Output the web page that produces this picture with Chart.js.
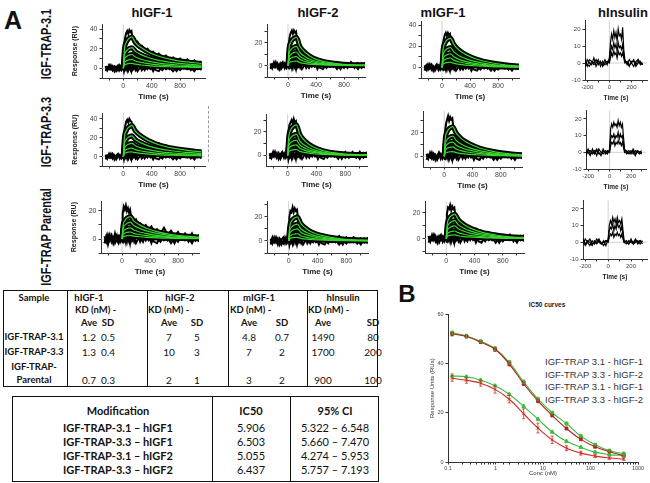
<!DOCTYPE html>
<html>
<head>
<meta charset="utf-8">
<script src="https://cdn.jsdelivr.net/npm/chart.js@4.4.1/dist/chart.umd.min.js"></script>
<style>
  body { margin: 0; width: 650px; height: 483px; position: relative; overflow: hidden; background: #fff;
         font-family: "Liberation Sans", Arial, sans-serif; }
  canvas { position: absolute; }
  .t { position: absolute; white-space: nowrap; line-height: 1; transform: translate(-50%, -50%); color: #111; }
  .l { position: absolute; white-space: nowrap; line-height: 1; transform: translate(0, -50%); color: #111; }
  .box { position: absolute; border: 1px solid #111; box-sizing: border-box; }
  .vl { position: absolute; width: 1px; background: #111; }
</style>
</head>
<body>
<script>
// ---------- sensorgram data (RU vs time, s) ----------
const TIME_FIT = [0, 15, 40, 70, 100, 120, 170, 250, 350, 500, 700, 900, 1100];
const TIME_RAW = [-250,-225,-200,-175,-150,-125,-100,-75,-50,-25,0,10,25,40,55,70,85,100,115,130,150,175,200,230,260,300,340,380,420,460,500,550,600,650,700,750,800,850,900,950,1000,1050,1100];
const NOISE_A = [2,-2,3,-1,2,-3,1,3,-2,2,0,3,-1,2,-2,3,0,-2,2,-1,3,-2,1,3,-2,2,-1,3,-3,2,1,-2,3,-1,2,-3,2,0,3,-2,2,-1,3];
const NOISE_B = [-3,1,-1,3,-2,1,-3,0,2,-2,1,-3,2,-1,1,-2,2,1,-3,2,-1,1,-3,0,2,-2,3,-1,1,-2,-3,2,-1,1,-3,1,-2,2,-1,1,-3,2,-2];
const TICKS_TIME = [-200, 0, 200, 400, 600, 800, 1000];
const LABELS_TIME = [0, 400, 800];
const TICKS_INS = [-200, -100, 0, 100, 200, 300];
const LABELS_INS = [-200, 0, 200];
const TICKS_RU = [-10, 0, 10, 20, 30, 40];

const FIT_T31_HIGF1 = [
  [0, 19.2, 26.2, 29.8, 31.4, 32, 26.2, 21.1, 16.6, 12.2, 8.6, 6.4, 4.8],
  [0, 12.6, 17.2, 19.5, 20.6, 21, 17.2, 13.9, 10.9, 8, 5.7, 4.2, 3.2],
  [0, 8.4, 11.5, 13, 13.7, 14, 11.5, 9.2, 7.3, 5.3, 3.8, 2.8, 2.1],
  [0, 5.4, 7.4, 8.4, 8.8, 9, 7.4, 5.9, 4.7, 3.4, 2.4, 1.8, 1.4],
  [0, 3, 4.1, 4.7, 4.9, 5, 4.1, 3.3, 2.6, 1.9, 1.4, 1, 0.8]
];
const FIT_T31_HIGF2 = [
  [0, 15, 20.5, 23.3, 24.5, 25, 17, 11.3, 7, 3.8, 1.8, 0.8, 0.5],
  [0, 10.2, 13.9, 15.8, 16.7, 17, 11.6, 7.7, 4.8, 2.6, 1.2, 0.5, 0.3],
  [0, 7.2, 9.8, 11.2, 11.8, 12, 8.2, 5.4, 3.4, 1.8, 0.8, 0.4, 0.2],
  [0, 4.8, 6.6, 7.4, 7.8, 8, 5.4, 3.6, 2.2, 1.2, 0.6, 0.2, 0.2],
  [0, 2.4, 3.3, 3.7, 3.9, 4, 2.7, 1.8, 1.1, 0.6, 0.3, 0.1, 0.1]
];
const FIT_T31_MIGF1 = [
  [0, 16.8, 23, 26, 27.4, 28, 21.8, 16.2, 12, 7.8, 4.5, 2.5, 1.4],
  [0, 11.4, 15.6, 17.7, 18.6, 19, 14.8, 11, 8.2, 5.3, 3, 1.7, 1],
  [0, 7.8, 10.7, 12.1, 12.7, 13, 10.1, 7.5, 5.6, 3.6, 2.1, 1.2, 0.7],
  [0, 5.4, 7.4, 8.4, 8.8, 9, 7, 5.2, 3.9, 2.5, 1.4, 0.8, 0.5],
  [0, 3, 4.1, 4.7, 4.9, 5, 3.9, 2.9, 2.2, 1.4, 0.8, 0.5, 0.3]
];
const FIT_T33_HIGF1 = [
  [0, 19.8, 27.1, 30.7, 32.3, 33, 27.1, 21.8, 17.2, 12.5, 8.9, 6.6, 5],
  [0, 13.2, 18, 20.5, 21.6, 22, 18, 14.5, 11.4, 8.4, 5.9, 4.4, 3.3],
  [0, 8.4, 11.5, 13, 13.7, 14, 11.5, 9.2, 7.3, 5.3, 3.8, 2.8, 2.1],
  [0, 5.4, 7.4, 8.4, 8.8, 9, 7.4, 5.9, 4.7, 3.4, 2.4, 1.8, 1.4],
  [0, 3, 4.1, 4.7, 4.9, 5, 4.1, 3.3, 2.6, 1.9, 1.4, 1, 0.8]
];
const FIT_T33_HIGF2 = [
  [0, 15.6, 21.3, 24.2, 25.5, 26, 17.7, 11.7, 7.3, 3.9, 1.8, 0.8, 0.5],
  [0, 10.8, 14.8, 16.7, 17.6, 18, 12.2, 8.1, 5, 2.7, 1.3, 0.5, 0.4],
  [0, 7.8, 10.7, 12.1, 12.7, 13, 8.8, 5.9, 3.6, 2, 0.9, 0.4, 0.3],
  [0, 5.4, 7.4, 8.4, 8.8, 9, 6.1, 4.1, 2.5, 1.4, 0.6, 0.3, 0.2],
  [0, 3, 4.1, 4.7, 4.9, 5, 3.4, 2.3, 1.4, 0.8, 0.4, 0.2, 0.1]
];
const FIT_T33_MIGF1 = [
  [0, 15, 20.5, 23.3, 24.5, 25, 19.5, 14.5, 10.8, 7, 4, 2.3, 1.3],
  [0, 10.2, 13.9, 15.8, 16.7, 17, 13.3, 9.9, 7.3, 4.8, 2.7, 1.5, 0.9],
  [0, 7.2, 9.8, 11.2, 11.8, 12, 9.4, 7, 5.2, 3.4, 1.9, 1.1, 0.6],
  [0, 4.8, 6.6, 7.4, 7.8, 8, 6.2, 4.6, 3.4, 2.2, 1.3, 0.7, 0.4],
  [0, 2.4, 3.3, 3.7, 3.9, 4, 3.1, 2.3, 1.7, 1.1, 0.6, 0.4, 0.2]
];
const FIT_PAR_HIGF1 = [
  [0, 9.6, 13.1, 14.9, 15.7, 16, 12.8, 10.1, 7.7, 5.3, 3.2, 2.1, 1.3],
  [0, 7.2, 9.8, 11.2, 11.8, 12, 9.6, 7.6, 5.8, 4, 2.4, 1.6, 1],
  [0, 4.8, 6.6, 7.4, 7.8, 8, 6.4, 5, 3.8, 2.6, 1.6, 1, 0.6],
  [0, 3, 4.1, 4.7, 4.9, 5, 4, 3.2, 2.4, 1.7, 1, 0.7, 0.4],
  [0, 1.5, 2.1, 2.3, 2.5, 2.5, 2, 1.6, 1.2, 0.8, 0.5, 0.3, 0.2]
];
const FIT_PAR_HIGF2 = [
  [0, 12, 16.4, 18.6, 19.6, 20, 14.4, 10, 6.6, 4, 2, 1, 0.6],
  [0, 8.4, 11.5, 13, 13.7, 14, 10.1, 7, 4.6, 2.8, 1.4, 0.7, 0.4],
  [0, 6, 8.2, 9.3, 9.8, 10, 7.2, 5, 3.3, 2, 1, 0.5, 0.3],
  [0, 3.6, 4.9, 5.6, 5.9, 6, 4.3, 3, 2, 1.2, 0.6, 0.3, 0.2],
  [0, 1.8, 2.5, 2.8, 2.9, 3, 2.2, 1.5, 1, 0.6, 0.3, 0.2, 0.1]
];
const FIT_PAR_MIGF1 = [
  [0, 11.4, 15.6, 17.7, 18.6, 19, 14.8, 11, 8, 5.1, 2.9, 1.5, 1],
  [0, 8.4, 11.5, 13, 13.7, 14, 10.9, 8.1, 5.9, 3.8, 2.1, 1.1, 0.7],
  [0, 6, 8.2, 9.3, 9.8, 10, 7.8, 5.8, 4.2, 2.7, 1.5, 0.8, 0.5],
  [0, 3.6, 4.9, 5.6, 5.9, 6, 4.7, 3.5, 2.5, 1.6, 0.9, 0.5, 0.3],
  [0, 1.8, 2.5, 2.8, 2.9, 3, 2.3, 1.7, 1.3, 0.8, 0.5, 0.2, 0.2]
];

const RAW_T31_HIGF1 = [2,-1,3,0,-2,2,1,-2,3,0,4,24,31,36,38,35,39,37,38,31,29,25,27,22,23,19,20,16,17,13,15,11,13,9,11,8,10,6,9,5,8,4,7];
const RAW_T31_HIGF2 = [-2,1,-1,2,0,-3,2,-1,1,-2,2,19,26,29,31,28,31,29,30,23,20,15,14,10,9,6,7,3,5,2,4,0,3,-1,3,-1,2,-2,3,-1,2,-2,1];
const RAW_T31_MIGF1 = [-1,2,-2,1,3,-1,0,2,-2,1,2,21,27,31,33,30,33,31,32,25,23,20,19,15,15,12,12,9,10,7,8,5,6,3,5,2,4,1,3,0,3,-1,2];
const RAW_T33_HIGF1 = [1,-2,2,-1,3,0,-2,2,0,-1,3,25,32,37,39,36,40,38,37,32,30,26,27,23,22,20,19,17,16,14,14,12,12,10,10,8,9,7,8,6,7,5,6];
const RAW_T33_HIGF2 = [1,-2,2,0,-1,2,-2,1,-1,2,1,20,26,28,30,27,31,28,29,22,19,16,13,11,8,7,5,4,3,3,2,1,3,-1,2,0,3,-2,2,-1,3,-2,1];
const RAW_T33_MIGF1 = [2,-1,1,-2,2,0,-1,3,-1,0,2,20,27,31,34,30,33,31,32,24,22,18,17,13,13,10,10,7,8,5,6,3,5,2,4,1,3,0,3,-1,2,0,2];
const RAW_PAR_HIGF1 = [-3,2,-4,1,3,-2,4,-1,-3,2,1,18,23,21,24,20,22,19,21,16,15,13,14,10,11,8,10,7,9,5,7,4,8,3,6,2,5,1,4,0,4,-1,3];
const RAW_PAR_HIGF2 = [-2,3,-1,1,-3,2,0,-2,3,-1,1,20,25,24,28,24,27,25,26,19,17,14,13,10,10,7,8,5,6,3,5,2,4,1,4,0,3,-1,3,0,2,-1,2];
const RAW_PAR_MIGF1 = [2,-2,1,3,-1,-3,2,0,-2,1,2,19,24,23,26,22,25,23,24,18,17,14,14,11,11,9,9,7,8,5,6,4,5,2,4,1,3,0,3,-1,2,0,2];

// hInsulin (no fit)
const TIME_INS = [-240,-220,-200,-180,-160,-140,-120,-100,-80,-60,-40,-20,0,10,20,30,40,50,60,70,80,90,100,110,120,130,140,160,180,200,220,240,260,280,300];
const INS_T31 = [
  [1,-2,2,0,-1,3,-2,1,0,-1,2,-1,3,12,17,14,19,15,18,13,20,16,17,14,21,8,2,-1,2,0,-2,1,2,-1,0],
  [-1,1,-2,2,1,-1,0,2,-2,1,-1,0,1,7,10,8,12,9,11,7,12,9,10,8,11,5,1,0,-2,1,1,-1,2,0,-1],
  [0,2,-1,-2,1,0,2,-1,1,-2,0,1,0,3,6,4,7,5,6,3,7,5,6,4,6,3,0,1,-1,0,2,-2,0,1,-1]
];
const INS_T33 = [
  [-1,1,0,-2,2,-1,1,0,-2,1,0,-1,2,14,17,15,18,16,17,15,19,16,18,15,17,9,2,0,1,-1,2,-1,1,0,1],
  [1,-1,2,-1,0,1,-2,2,0,-1,1,0,1,8,10,9,11,8,10,9,12,8,11,9,10,5,1,-1,0,1,-1,1,0,-1,0],
  [0,-2,1,1,-1,0,2,-1,-1,2,-1,1,0,4,6,5,7,4,6,5,7,5,6,4,6,3,0,1,-1,0,1,-2,1,0,-1]
];
const INS_PAR = [
  [1,-1,2,0,-2,1,-1,2,0,-1,1,-2,2,10,13,11,15,12,14,11,15,12,13,11,14,7,1,0,-1,1,0,2,-1,1,0],
  [-1,2,-1,1,0,-2,1,0,2,-1,0,1,1,7,9,8,11,7,10,8,12,9,10,7,10,4,0,1,-1,2,-1,0,1,-1,1],
  [0,1,-2,0,2,-1,0,-1,1,0,-2,1,0,3,5,4,6,3,5,4,6,4,5,3,5,2,0,-1,1,0,-1,1,0,1,-1]
];

// ---------- panel B (IC50) ----------
const CONC = [0.122, 0.244, 0.488, 0.977, 1.95, 3.91, 7.81, 15.6, 31.25, 62.5, 125, 250, 500];
const B_TOP_RED   = [52, 51, 48.7, 45.8, 39.8, 31.8, 24.8, 18.9, 13.6, 9.2, 6.2, 4.2, 2.6];
const B_TOP_GREEN = [52.5, 51.2, 49, 46, 40.5, 32.6, 25.6, 20, 15.6, 10.5, 7, 4.6, 3.4];
const B_LOW_GREEN = [35, 34.6, 33.2, 31, 27.5, 22.6, 17.4, 12.2, 8.4, 6, 4, 3, 2.6];
const B_LOW_RED   = [34, 33.2, 32, 29.5, 25.5, 19.6, 13.8, 9, 5.6, 3.6, 2.4, 1.6, 1.2];
const E_TOP_RED   = [0.8, 0.6, 0.6, 0.9, 0.8, 0.7, 0.7, 0.5, 0.5, 0.4, 0.4, 0.3, 0.3];
const E_TOP_GREEN = [0.6, 0.5, 0.5, 0.8, 0.7, 0.6, 0.5, 0.5, 0.5, 0.4, 0.4, 0.3, 0.3];
const E_LOW_GREEN = [0.8, 0.5, 0.6, 0.5, 0.5, 0.6, 0.5, 0.5, 0.5, 0.4, 0.4, 0.3, 0.3];
const E_LOW_RED   = [1.2, 1.2, 1.2, 1.5, 1.5, 2, 2, 1.5, 1, 0.8, 0.6, 0.5, 0.5];
const LEGEND_B = ['IGF-TRAP 3.1 - hIGF-1', 'IGF-TRAP 3.3 - hIGF-2', 'IGF-TRAP 3.1 - hIGF-1', 'IGF-TRAP 3.3 - hIGF-2'];

// ---------- tables ----------
const KD_SAMPLES = ['IGF-TRAP-3.1', 'IGF-TRAP-3.3', 'Parental'];
const KD_LIGANDS = ['hIGF-1', 'hIGF-2', 'mIGF-1', 'hInsulin'];
const KD_AVE = [['1.2', '7', '4.8', '1490'], ['1.3', '10', '7', '1700'], ['0.7', '2', '3', '900']];
const KD_SD  = [['0.5', '5', '0.7', '80'], ['0.4', '3', '2', '200'], ['0.3', '1', '2', '100']];
const IC50_ROWS = ['IGF-TRAP-3.1 \u2013 hIGF1', 'IGF-TRAP-3.3 \u2013 hIGF1', 'IGF-TRAP-3.1 \u2013 hIGF2', 'IGF-TRAP-3.3 \u2013 hIGF2'];
const IC50_VAL = ['5.906', '6.503', '5.055', '6.437'];
const IC50_CI  = ['5.322 \u2013 6.548', '5.660 \u2013 7.470', '4.274 \u2013 5.953', '5.757 \u2013 7.193'];

// ---------- helpers ----------
function pts(xs, ys) { return ys.map((y, i) => ({x: xs[i], y: y})); }

function txt(s, x, y, css, cls) {
  const d = document.createElement('div');
  d.className = cls || 't';
  d.textContent = s;
  d.style.left = x + 'px'; d.style.top = y + 'px';
  if (css) d.style.cssText += css;
  document.body.appendChild(d);
  return d;
}

const zeroLines = {
  id: 'zeroLines',
  beforeDatasetsDraw(chart) {
    const {ctx, chartArea: a, scales: {x, y}} = chart;
    const y0 = y.getPixelForValue(0), x0 = x.getPixelForValue(0);
    ctx.save();
    ctx.strokeStyle = '#c4c4c4'; ctx.lineWidth = 0.8;
    ctx.beginPath();
    ctx.moveTo(a.left, y0); ctx.lineTo(a.right, y0);
    ctx.moveTo(x0, a.top); ctx.lineTo(x0, a.bottom);
    ctx.stroke();
    ctx.restore();
  }
};

function sensor(box, c) {
  const [L, T, R, B] = box;
  const yW = c.yTitle ? 31 : 20, xH = c.ins ? 22 : 24, pT = 5, pR = 3;
  const w = Math.round(R - L + yW + pR), h = Math.round(B - T + pT + xH);
  const cv = document.createElement('canvas');
  cv.width = w; cv.height = h;
  cv.style.left = (L - yW) + 'px'; cv.style.top = (T - pT) + 'px';
  cv.style.width = w + 'px'; cv.style.height = h + 'px';
  document.body.appendChild(cv);

  const ds = [];
  (c.fits || []).forEach(f => {
    ds.push({data: pts(TIME_FIT, f), borderColor: '#3ad630', borderWidth: 1.2, order: 0, cubicInterpolationMode: 'monotone'});
    ds.push({data: pts(TIME_FIT, f), borderColor: '#000', borderWidth: 5, order: 2, cubicInterpolationMode: 'monotone'});
  });
  c.raw.forEach(r => ds.push({data: pts(c.rawTime, r), borderColor: '#000', borderWidth: c.ins ? 1.2 : 2, order: 3}));

  const fs = c.ins ? 6 : 7;
  const xTicks = c.ins ? TICKS_INS : TICKS_TIME, xLabels = c.ins ? LABELS_INS : LABELS_TIME;
  const yLabel = v => c.ins ? true : v % 20 === 0;
  new Chart(cv, {
    type: 'line',
    data: {datasets: ds},
    options: {
      responsive: false, animation: false, devicePixelRatio: 1,
      layout: {padding: {top: pT, right: pR, left: 0, bottom: 0}},
      elements: {point: {radius: 0}},
      plugins: {legend: {display: false}, tooltip: {enabled: false}},
      scales: {
        x: {
          type: 'linear', min: c.xr[0], max: c.xr[1],
          afterBuildTicks: s => { s.ticks = xTicks.filter(v => v >= c.xr[0] && v <= c.xr[1]).map(v => ({value: v})); },
          afterFit: s => { s.height = xH; },
          ticks: {
            font: {size: fs}, color: '#444', padding: 1, maxRotation: 0, autoSkip: false,
            callback: v => xLabels.includes(v) ? v : ''
          },
          grid: {drawOnChartArea: false, tickLength: 2.5, color: '#333'},
          border: {color: '#333'},
          title: {display: true, text: 'Time (s)', font: {size: c.ins ? 6.5 : 8, weight: 'bold'}, color: '#222', padding: 0}
        },
        y: {
          min: c.yr[0], max: c.yr[1],
          afterBuildTicks: s => { s.ticks = TICKS_RU.filter(v => v >= c.yr[0] && v <= c.yr[1]).map(v => ({value: v})); },
          afterFit: s => { s.width = yW; },
          ticks: {
            font: {size: fs}, color: '#444', padding: 2, autoSkip: false,
            callback: v => yLabel(v) ? v : ''
          },
          grid: {drawOnChartArea: false, tickLength: 2.5, color: '#333'},
          border: {color: '#333'},
          title: {display: !!c.yTitle, text: 'Response (RU)', font: {size: 7, weight: 'bold'}, color: '#222', padding: 0}
        }
      }
    },
    plugins: [zeroLines]
  });
}

// ---------- static text ----------
txt('A', 13, 20, 'font-size:25px;font-weight:bold;');
txt('B', 407, 294, 'font-size:24px;font-weight:bold;');
txt('hIGF-1', 152, 12, 'font-size:13px;font-weight:bold;');
txt('hIGF-2', 318, 12, 'font-size:13px;font-weight:bold;');
txt('mIGF-1', 443, 12, 'font-size:13px;font-weight:bold;');
txt('hInsulin', 623, 12, 'font-size:13px;font-weight:bold;');
const rowLab = 'font-size:14px;font-weight:bold;transform:translate(-50%,-50%) rotate(-90deg) scaleX(0.78);';
txt('IGF-TRAP-3.1', 46, 44, rowLab);
txt('IGF-TRAP-3.3', 46, 132, rowLab);
txt('IGF-TRAP Parental', 46, 237, rowLab);

// faint dashed edge next to the second-row hIGF-1 panel
(function () {
  const d = document.createElement('div');
  d.style.cssText = 'position:absolute;left:208px;top:106px;height:56px;border-left:1px dashed #9a9a9a;';
  document.body.appendChild(d);
})();

// ---------- sensorgrams ----------
const X_STD = [-300, 1100], X_INS = [-220, 340];
sensor([102, 23, 205, 78], {fits: FIT_T31_HIGF1, raw: [NOISE_A, NOISE_B, RAW_T31_HIGF1], rawTime: TIME_RAW, xr: [-300, 1150], yr: [-10, 45], yTitle: true});
sensor([267, 23, 365, 77], {fits: FIT_T31_HIGF2, raw: [NOISE_A, NOISE_B, RAW_T31_HIGF2], rawTime: TIME_RAW, xr: X_STD, yr: [-10, 36.5]});
sensor([421, 20, 519, 78], {fits: FIT_T31_MIGF1, raw: [NOISE_A, NOISE_B, RAW_T31_MIGF1], rawTime: TIME_RAW, xr: X_STD, yr: [-10, 44]});
sensor([585, 20, 647, 80], {raw: INS_T31, rawTime: TIME_INS, xr: X_INS, yr: [-10, 25], ins: true});

sensor([102, 112, 205, 166], {fits: FIT_T33_HIGF1, raw: [NOISE_A, NOISE_B, RAW_T33_HIGF1], rawTime: TIME_RAW, xr: [-300, 1150], yr: [-10, 46], yTitle: true});
sensor([266, 113, 367, 166], {fits: FIT_T33_HIGF2, raw: [NOISE_A, NOISE_B, RAW_T33_HIGF2], rawTime: TIME_RAW, xr: X_STD, yr: [-9, 35]});
sensor([423, 110, 522, 167], {fits: FIT_T33_MIGF1, raw: [NOISE_A, NOISE_B, RAW_T33_MIGF1], rawTime: TIME_RAW, xr: X_STD, yr: [-9, 38]});
sensor([586, 110, 646, 169], {raw: INS_T33, rawTime: TIME_INS, xr: X_INS, yr: [-10, 25], ins: true});

sensor([101, 200, 199, 253], {fits: FIT_PAR_HIGF1, raw: [NOISE_A, NOISE_B, RAW_PAR_HIGF1], rawTime: TIME_RAW, xr: X_STD, yr: [-10, 27], yTitle: true});
sensor([267, 200, 368, 253], {fits: FIT_PAR_HIGF2, raw: [NOISE_A, NOISE_B, RAW_PAR_HIGF2], rawTime: TIME_RAW, xr: X_STD, yr: [-10, 33]});
sensor([425, 200, 524, 253], {fits: FIT_PAR_MIGF1, raw: [NOISE_A, NOISE_B, RAW_PAR_MIGF1], rawTime: TIME_RAW, xr: X_STD, yr: [-11, 29]});
sensor([583, 200, 647, 259], {raw: INS_PAR, rawTime: TIME_INS, xr: X_INS, yr: [-10, 25], ins: true});

// ---------- table 1 (KD) ----------
(function () {
  const tb = document.createElement('div');
  tb.className = 'box';
  tb.style.cssText += 'left:3px;top:290px;width:375px;height:97px;';
  document.body.appendChild(tb);
  [67, 147, 228, 307].forEach(x => {
    const v = document.createElement('div');
    v.className = 'vl';
    v.style.cssText += 'left:' + x + 'px;top:290px;height:97px;';
    document.body.appendChild(v);
  });
  const hb = 'font-family:Lato,sans-serif;font-size:9.5px;font-weight:bold;';
  const nv = 'font-family:Lato,sans-serif;font-size:10px;';
  const headX = [89, 180, 259, 343], kdX = [75, 148, 230, 308];
  const aveX = [89, 169, 249, 323], sdX = [108, 197, 282, 373];
  const rowY = [337, 352, 380];
  txt('Sample', 34, 298, hb);
  KD_LIGANDS.forEach((g, j) => {
    txt(g, headX[j], 298, hb);
    txt('KD (nM) -', kdX[j], 310, hb, 'l');
    txt('Ave', aveX[j], 323, hb);
    txt('SD', sdX[j], 323, hb);
  });
  KD_SAMPLES.forEach((s, i) => {
    txt(s, 34, rowY[i], hb);
    KD_AVE[i].forEach((v, j) => txt(v, aveX[j], rowY[i], nv));
    KD_SD[i].forEach((v, j) => txt(v, sdX[j], rowY[i], nv));
  });
  txt('IGF-TRAP-', 34, 367, hb);
})();

// ---------- table 2 (IC50) ----------
(function () {
  const tb = document.createElement('div');
  tb.className = 'box';
  tb.style.cssText += 'left:12px;top:396px;width:367px;height:86px;';
  document.body.appendChild(tb);
  [212, 290].forEach(x => {
    const v = document.createElement('div');
    v.className = 'vl';
    v.style.cssText += 'left:' + x + 'px;top:396px;height:86px;';
    document.body.appendChild(v);
  });
  const hb = 'font-family:Lato,sans-serif;font-size:11px;font-weight:bold;';
  const nv = 'font-family:Lato,sans-serif;font-size:11px;';
  txt('Modification', 118, 410, hb);
  txt('IC50', 251, 410, hb);
  txt('95% CI', 335, 410, hb);
  const ry = [427, 441, 455, 469];
  IC50_ROWS.forEach((s, i) => {
    txt(s, 118, ry[i], hb);
    txt(IC50_VAL[i], 251, ry[i], nv);
    txt(IC50_CI[i], 335, ry[i], nv);
  });
})();

// ---------- panel B ----------
txt('IC50 curves', 547, 305, 'font-size:6.5px;font-weight:bold;color:#222;');
LEGEND_B.forEach((s, i) => txt(s, 545, 362 + i * 12.5, 'font-size:9.5px;color:#333;', 'l'));

const errorBars = {
  id: 'errorBars',
  afterDatasetsDraw(chart) {
    const {ctx, scales: {x, y}} = chart;
    chart.data.datasets.forEach(d => {
      if (!d.errors) return;
      ctx.save();
      ctx.strokeStyle = d.borderColor; ctx.lineWidth = 0.8;
      d.data.forEach((p, i) => {
        const px = x.getPixelForValue(p.x);
        const t = y.getPixelForValue(p.y + d.errors[i]), b = y.getPixelForValue(p.y - d.errors[i]);
        ctx.beginPath();
        ctx.moveTo(px, t); ctx.lineTo(px, b);
        ctx.moveTo(px - 1.5, t); ctx.lineTo(px + 1.5, t);
        ctx.moveTo(px - 1.5, b); ctx.lineTo(px + 1.5, b);
        ctx.stroke();
      });
      ctx.restore();
    });
  }
};

(function () {
  const L = 448, T = 313, R = 638, B = 462, yW = 19, xH = 15, pT = 4, pR = 8;
  const w = R - L + yW + pR, h = B - T + pT + xH;
  const cv = document.createElement('canvas');
  cv.width = w; cv.height = h;
  cv.style.left = (L - yW) + 'px'; cv.style.top = (T - pT) + 'px';
  cv.style.width = w + 'px'; cv.style.height = h + 'px';
  document.body.appendChild(cv);
  const RED = '#cf2b27', DRED = '#b3221e', GREEN = '#3dbb3a';
  const series = (vals, err, col, style, r) => ({
    data: pts(CONC, vals), errors: err, borderColor: col, backgroundColor: col, borderWidth: 1.1,
    tension: 0.4, pointStyle: style, pointRadius: r, pointBorderWidth: 0.8
  });
  new Chart(cv, {
    type: 'line',
    data: {datasets: [
      series(B_TOP_RED, E_TOP_RED, DRED, 'rect', 2),
      series(B_TOP_GREEN, E_TOP_GREEN, GREEN, 'circle', 1.8),
      series(B_LOW_GREEN, E_LOW_GREEN, GREEN, 'triangle', 2.2),
      series(B_LOW_RED, E_LOW_RED, RED, 'crossRot', 2)
    ]},
    options: {
      responsive: false, animation: false, devicePixelRatio: 1,
      layout: {padding: {top: pT, right: pR, left: 0, bottom: 0}},
      plugins: {legend: {display: false}, tooltip: {enabled: false}},
      scales: {
        x: {
          type: 'logarithmic', min: 0.1, max: 1000,
          afterFit: s => { s.height = xH; },
          ticks: {
            font: {size: 5.5}, color: '#444', padding: 1, maxRotation: 0, autoSkip: false,
            callback: v => {
              const e = Math.log10(v);
              if (Math.abs(e - Math.round(e)) > 1e-6) return '';
              return v < 1 ? '0.1' : String(Math.round(v));
            }
          },
          grid: {drawOnChartArea: false, tickLength: 2.5, color: '#333'},
          border: {color: '#333'},
          title: {display: true, text: 'Conc (nM)', font: {size: 6}, color: '#333', padding: 0}
        },
        y: {
          min: 0, max: 60,
          afterFit: s => { s.width = yW; },
          ticks: {stepSize: 20, font: {size: 5.5}, color: '#444', padding: 2},
          grid: {drawOnChartArea: false, tickLength: 2.5, color: '#333'},
          border: {color: '#333'},
          title: {display: true, text: 'Response Units (RUs)', font: {size: 6}, color: '#333', padding: 0}
        }
      }
    },
    plugins: [errorBars]
  });
})();
</script>
</body>
</html>
